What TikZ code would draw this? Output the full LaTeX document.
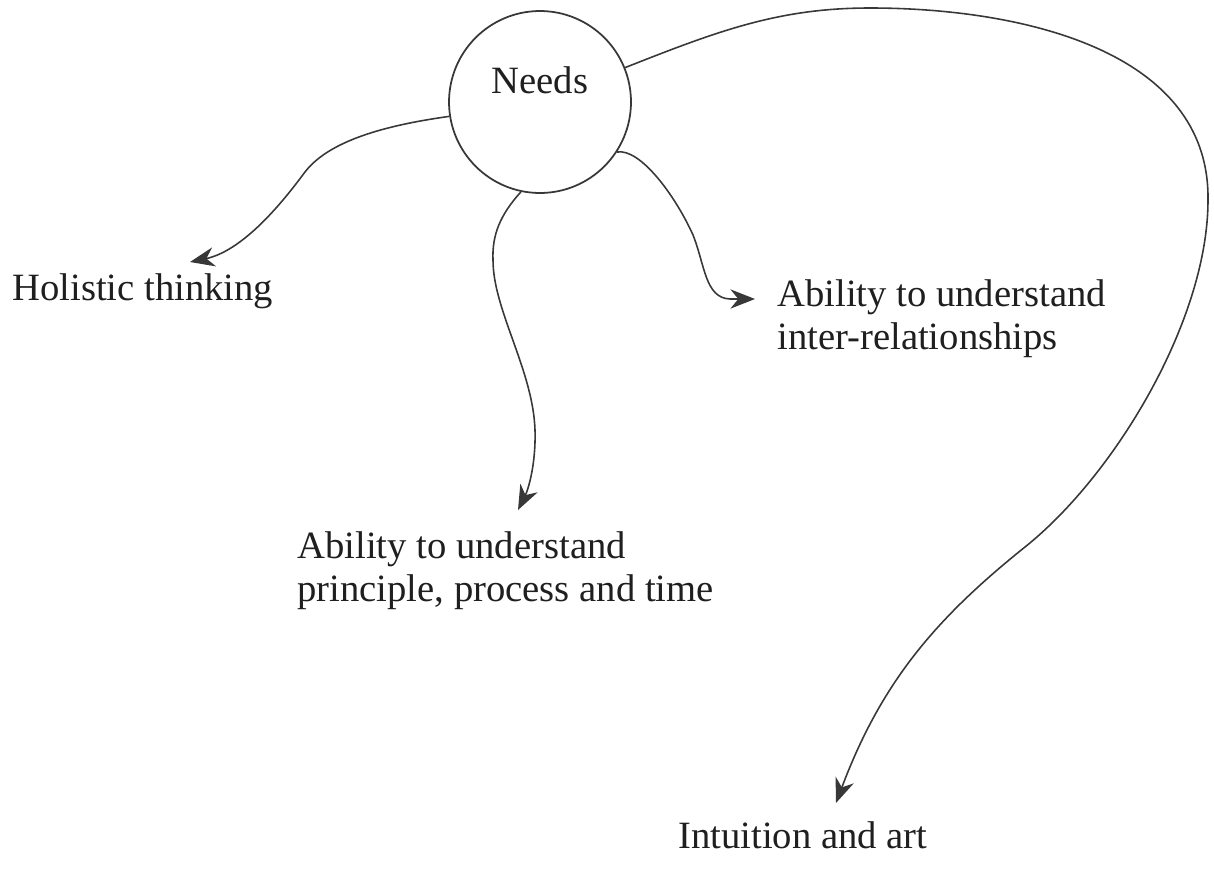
\documentclass[tikz,border=0pt]{standalone}
\usepackage{fontspec}
\setmainfont{Liberation Serif}
\usepackage{tikz}
\usetikzlibrary{arrows.meta,calc}
\colorlet{lcline}{black!78}
\colorlet{lctext}{black!88}
\newcommand\labelsize{\fontsize{22}{24.4}\selectfont}

\begin{document}
\begin{tikzpicture}[%
    x=0.02cm, y=-0.02cm,        % one unit is one pixel of the scan
    >={Stealth[length=14pt,width=11pt,inset=4.5pt]},
    every node/.style={font=\labelsize, text=lctext}]
% -------------------------------------------------
% A few styles
\tikzset{
  need/.style={draw=lcline, circle, line width=1pt, minimum size=3.64cm,
    inner sep=0pt, text height=15pt, text depth=25pt},
  lab/.style={anchor=base west, inner sep=0pt},
  mlab/.style={anchor=north west, inner sep=0pt, align=left},
  link/.style={->, draw=lcline, line width=0.9pt}
}
\useasboundingbox (0,0) rectangle (1214,869);
% -------------------------------------------------
% The hub and the four outcomes
\node [need] (needs) at (540,102) {Needs};
\node [lab] (holistic) at (12,300) {Holistic thinking};
\node [mlab] (interrel) at (777,279) {Ability to understand\\inter-relationships};
\node [mlab] (principle) at (297,531) {Ability to understand\\principle, process and time};
\node [lab] (intuition) at (678,848) {Intuition and art};

% ends of the arrows, just above the labels
\coordinate (tHolistic)  at (190,262);
\coordinate (tPrinciple) at (518,510);
\coordinate (tInterrel)  at (755,299);
\coordinate (tIntuition) at (836,803);

% -------------------------------------------------
% the wavy connectors
\draw [link] (needs.189) .. controls (395,124) and (331,138) .. (305,172)
  .. controls (290,192) and (247,250) .. (tHolistic);
\draw [link] (needs.258) .. controls (500,215) and (492,235) .. (493,260)
  .. controls (493,310) and (533,370) .. (535,430)
  .. controls (536,465) and (528,490) .. (tPrinciple);
\draw [link] (needs.327) .. controls (640,148) and (675,195) .. (693,235)
  .. controls (705,265) and (705,298) .. (730,299) -- (tInterrel);
% the long one round the right side
\draw [link] (needs.22) .. controls (720,30) and (780,8) .. (870,8)
  .. controls (1020,8) and (1210,50) .. (1208,200)
  .. controls (1208,320) and (1115,475) .. (1025,547)
  .. controls (935,619) and (881,683) .. (tIntuition);
\end{tikzpicture}
\end{document}
